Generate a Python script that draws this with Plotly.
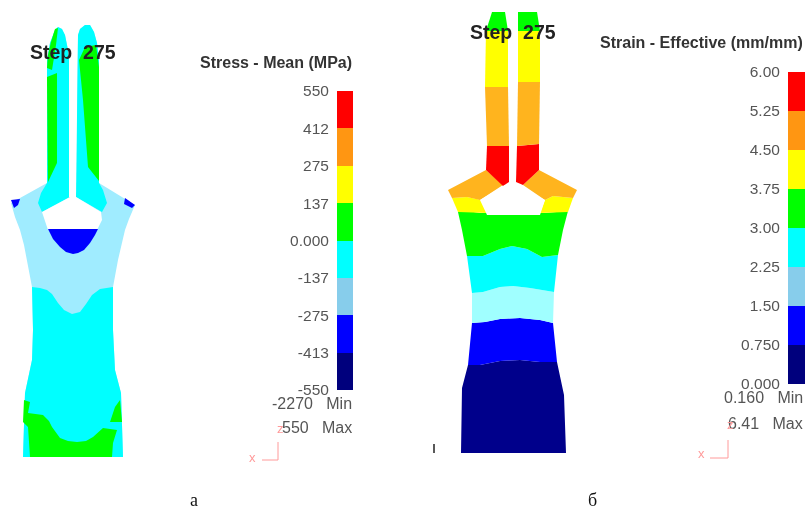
import plotly.graph_objects as go

W, H = 807, 513
# palette
RED, ORANGE, YELLOW, GREEN, CYAN = "#ff0000", "#ff9612", "#ffff00", "#00ff00", "#00ffff"
PALE, BLUE, NAVY = "#87cdeb", "#0000ff", "#00007d"
BAR_COLORS = [NAVY, BLUE, PALE, CYAN, GREEN, YELLOW, ORANGE, RED]
PALE_A, PALE_B, ORANGE_B, NAVY_B = "#a0ecff", "#a0ffff", "#ffb41e", "#00008b"

# legends
stress_levels = [-550, -412.5, -275, -137.5, 0, 137.5, 275, 412.5, 550]
stress_labels = ["-550", "-413", "-275", "-137", "0.000", "137", "275", "412", "550"]
strain_levels = [0, 0.75, 1.5, 2.25, 3, 3.75, 4.5, 5.25, 6]
strain_labels = ["0.000", "0.750", "1.50", "2.25", "3.00", "3.75", "4.50", "5.25", "6.00"]

# specimen a contours
a_body = [(47,183),(47,60),(50,43),(55,30),(58,27),(62,29),(65,35),(68,50),(69,60),(69,195),(76,195),(77,70),(78,35),(80,29),(85,25),(90,25),(94,32),(97,43),(99,60),(99,183),
          (135,205),(129,219),(125,230),(118,260),(113,287),(113,330),(115,370),(121,393),(123,457),(23,457),(25,393),(32,360),(33,330),(32,287),(28,265),(24,245),(20,230),(15,217),(11,203)]
a_cyan_low = [(32,287),(40,288),(47,290),(52,294),(58,303),(64,310),(72,314),(80,312),(86,304),(92,295),(100,289),(113,287),(113,330),(115,370),(121,393),(123,457),(23,457),(25,393),(32,360),(33,330)]
a_green_low = [(24,400),(30,402),(28,413),(43,415),(49,421),(52,427),(60,438),(68,441),(77,442),(86,441),(93,437),(103,428),(117,430),(113,443),(112,457),(30,457),(28,427),(23,422)]
a_green_right = [(120,400),(122,422),(110,422),(115,407)]
a_cyan_left = [(47,183),(41,193),(38,203),(42,212),(70,197),(69,60),(68,50),(65,35),(62,29),(58,27),(55,30),(50,43),(47,60)]
a_cyan_right = [(99,183),(103,190),(107,203),(102,212),(76,197),(77,70),(78,35),(80,29),(85,25),(90,25),(94,32),(97,43),(99,60)]
a_green_left = [(48,182),(57,163),(57,73),(47,77)]
a_green_tip = [(47,68),(48,55),(51,42),(55,29),(58,28),(56,45),(52,70)]
a_green_right2 = [(79,60),(85,47),(96,45),(99,67),(99,181),(88,167),(83,100)]
a_hole = [(70,197),(42,212),(48,230),(97,230),(102,220),(101,212),(76,197)]
a_slot = [(69,40),(69,197),(76,197),(77,40),(74,24),(72,24)]
a_navy_core = [(48,229),(98,229),(95,235),(90,243),(84,250),(78,253),(73,254),(66,252),(60,247),(53,239)]
a_tip_left = [(11,200),(20,199),(18,205),(14,208)]
a_tip_right = [(125,198),(135,205),(132,208),(124,204)]

# specimen b contours
b_navy = [(468,365),(480,365),(500,361),(520,360),(540,362),(557,362),(564,395),(566,453),(461,453),(462,388)]
b_blue = [(472,323),(485,322),(500,319),(520,318),(540,320),(553,323),(557,362),(540,362),(520,360),(500,361),(480,365),(468,365)]
b_pale = [(472,293),(483,292),(500,287),(513,286),(530,288),(554,292),(553,323),(540,320),(520,318),(500,319),(485,322),(472,323)]
b_cyan = [(467,256),(483,256),(500,249),(512,246),(527,249),(542,257),(558,255),(554,292),(530,288),(513,286),(500,287),(483,292),(472,293)]
b_green = [(458,212),(467,211),(480,213),(545,213),(568,211),(563,230),(558,255),(542,257),(527,249),(512,246),(500,249),(483,256),(467,256),(462,230)]
b_yellow_left = [(452,198),(467,197),(481,200),(487,213),(458,212)]
b_yellow_right = [(545,200),(553,196),(573,198),(568,212),(540,213)]
b_shoulder_left = [(448,190),(486,170),(503,185),(480,200),(467,197),(452,198)]
b_shoulder_right = [(539,170),(577,190),(573,198),(553,196),(545,200),(523,185)]
b_red_left = [(487,146),(509,146),(509,182),(503,186),(486,170)]
b_red_right = [(517,146),(539,144),(539,170),(523,185),(516,182)]
b_orange_left = [(485,87),(508,87),(509,146),(487,146)]
b_orange_right = [(518,82),(540,82),(539,144),(517,146)]
b_yellow_pl = [(486,30),(508,30),(508,87),(485,87)]
b_yellow_pr = [(518,30),(540,30),(540,82),(518,82)]
b_green_pl = [(492,12),(505,12),(508,31),(486,31)]
b_green_pr = [(518,12),(537,12),(540,31),(518,31)]
b_hole = [(505,185),(480,200),(487,215),(540,215),(545,200),(516,185)]

layers = [
    (a_body, PALE_A), (a_cyan_low, CYAN), (a_green_low, GREEN), (a_green_right, GREEN),
    (a_cyan_left, CYAN), (a_cyan_right, CYAN), (a_green_left, GREEN), (a_green_tip, GREEN),
    (a_green_right2, GREEN), (a_slot, "#ffffff"), (a_hole, "#ffffff"), (a_navy_core, BLUE),
    (a_tip_left, BLUE), (a_tip_right, BLUE),
    (b_navy, NAVY_B), (b_blue, BLUE), (b_pale, PALE_B), (b_cyan, CYAN), (b_green, GREEN),
    (b_yellow_left, YELLOW), (b_yellow_right, YELLOW), (b_shoulder_left, ORANGE_B), (b_shoulder_right, ORANGE_B),
    (b_red_left, RED), (b_red_right, RED), (b_orange_left, ORANGE_B), (b_orange_right, ORANGE_B),
    (b_yellow_pl, YELLOW), (b_yellow_pr, YELLOW), (b_green_pl, GREEN), (b_green_pr, GREEN), (b_hole, "#ffffff"),
]

# triads
triad_a_x, triad_a_y = [278, 278, 262], [442, 460, 460]
triad_b_x, triad_b_y = [728, 728, 710], [440, 458, 458]

fig = go.Figure()
for pts, col in layers:
    fig.add_trace(go.Scatter(x=[p[0] for p in pts], y=[p[1] for p in pts], mode="lines", fill="toself",
                             fillcolor=col, line=dict(width=0, color=col), hoverinfo="skip", showlegend=False))
for tx, ty in ((triad_a_x, triad_a_y), (triad_b_x, triad_b_y)):
    fig.add_trace(go.Scatter(x=tx, y=ty, mode="lines", line=dict(color="#ff9a9a", width=1), hoverinfo="skip", showlegend=False))
fig.add_trace(go.Scatter(x=[434, 434], y=[444, 453], mode="lines", line=dict(color="#222222", width=1.5), hoverinfo="skip", showlegend=False))


def bars(levels, ax):
    fig.add_trace(go.Bar(x=[0] * 8, base=levels[:-1], y=[b - a for a, b in zip(levels[:-1], levels[1:])],
                         width=1, marker=dict(color=BAR_COLORS, line=dict(width=0)), xaxis=f"x{ax}", yaxis=f"y{ax}",
                         hoverinfo="skip", showlegend=False))


bars(stress_levels, 2)
bars(strain_levels, 3)

tick_font = dict(family="Liberation Sans", size=15.5, color="#555555")


def legend_axes(x0, x1, y0, y1, levels, labels):
    xa = dict(domain=[x0 / W, x1 / W], range=[-0.5, 0.5], visible=False, fixedrange=True, automargin=False)
    ya = dict(domain=[1 - y1 / H, 1 - y0 / H], range=[levels[0], levels[-1]], tickmode="array", tickvals=levels,
              ticktext=labels, ticks="outside", ticklen=4, tickcolor="rgba(0,0,0,0)", tickfont=tick_font,
              showgrid=False, zeroline=False, showline=False, side="left", fixedrange=True, automargin=False)
    return xa, ya


xa2, ya2 = legend_axes(337, 353, 91, 390, stress_levels, stress_labels)
xa3, ya3 = legend_axes(788, 805, 72, 384, strain_levels, strain_labels)
ya2["anchor"] = "x2"
ya3["anchor"] = "x3"
xa2["anchor"] = "y2"
xa3["anchor"] = "y3"

texts = [
    ("Step  275", 72.5, 52, "center", "Liberation Sans", 19.5, "#222222", True),
    ("Step  275", 512.5, 32, "center", "Liberation Sans", 19.5, "#222222", True),
    ("Stress - Mean (MPa)", 353.5, 62, "right", "Liberation Sans", 16, "#333333", True),
    ("Strain - Effective (mm/mm)", 805, 42, "right", "Liberation Sans", 16, "#333333", True),
    ("-2270   Min", 354, 403, "right", "Liberation Sans", 16, "#555555", False),
    ("550   Max", 354, 427, "right", "Liberation Sans", 16, "#555555", False),
    ("0.160   Min", 805, 397, "right", "Liberation Sans", 16, "#555555", False),
    ("6.41   Max", 805, 423, "right", "Liberation Sans", 16, "#555555", False),
    ("z", 280, 428, "center", "Liberation Sans", 13, "#ff9a9a", False),
    ("x", 252, 457, "center", "Liberation Sans", 13, "#ff9a9a", False),
    ("z", 730, 424, "center", "Liberation Sans", 13, "#ff9a9a", False),
    ("x", 701, 453, "center", "Liberation Sans", 13, "#ff9a9a", False),
    ("а", 194, 500, "center", "Liberation Serif", 18, "#111111", False),
    ("б", 592, 500, "center", "Liberation Serif", 18, "#111111", False),
]
annotations = [
    dict(text=f"<b>{t}</b>" if b else t, x=x, y=y, xref="x", yref="y", xanchor=a, yanchor="middle", showarrow=False,
         font=dict(family=f, size=s, color=c))
    for t, x, y, a, f, s, c, b in texts
]

fig.update_layout(
    width=W, height=H, margin=dict(l=0, r=0, t=0, b=0, autoexpand=False), paper_bgcolor="white", plot_bgcolor="rgba(0,0,0,0)",
    xaxis=dict(domain=[0, 1], range=[0, W], visible=False, fixedrange=True),
    yaxis=dict(domain=[0, 1], range=[H, 0], visible=False, fixedrange=True),
    xaxis2=xa2, yaxis2=ya2, xaxis3=xa3, yaxis3=ya3, annotations=annotations, barmode="overlay", bargap=0,
)
fig.write_html("out.html", config=dict(displayModeBar=False, responsive=False),
               post_script="document.body.style.margin='0';document.body.style.overflow='hidden';"
                           "document.querySelector('.plot-container').style.filter='blur(0.7px)';")
